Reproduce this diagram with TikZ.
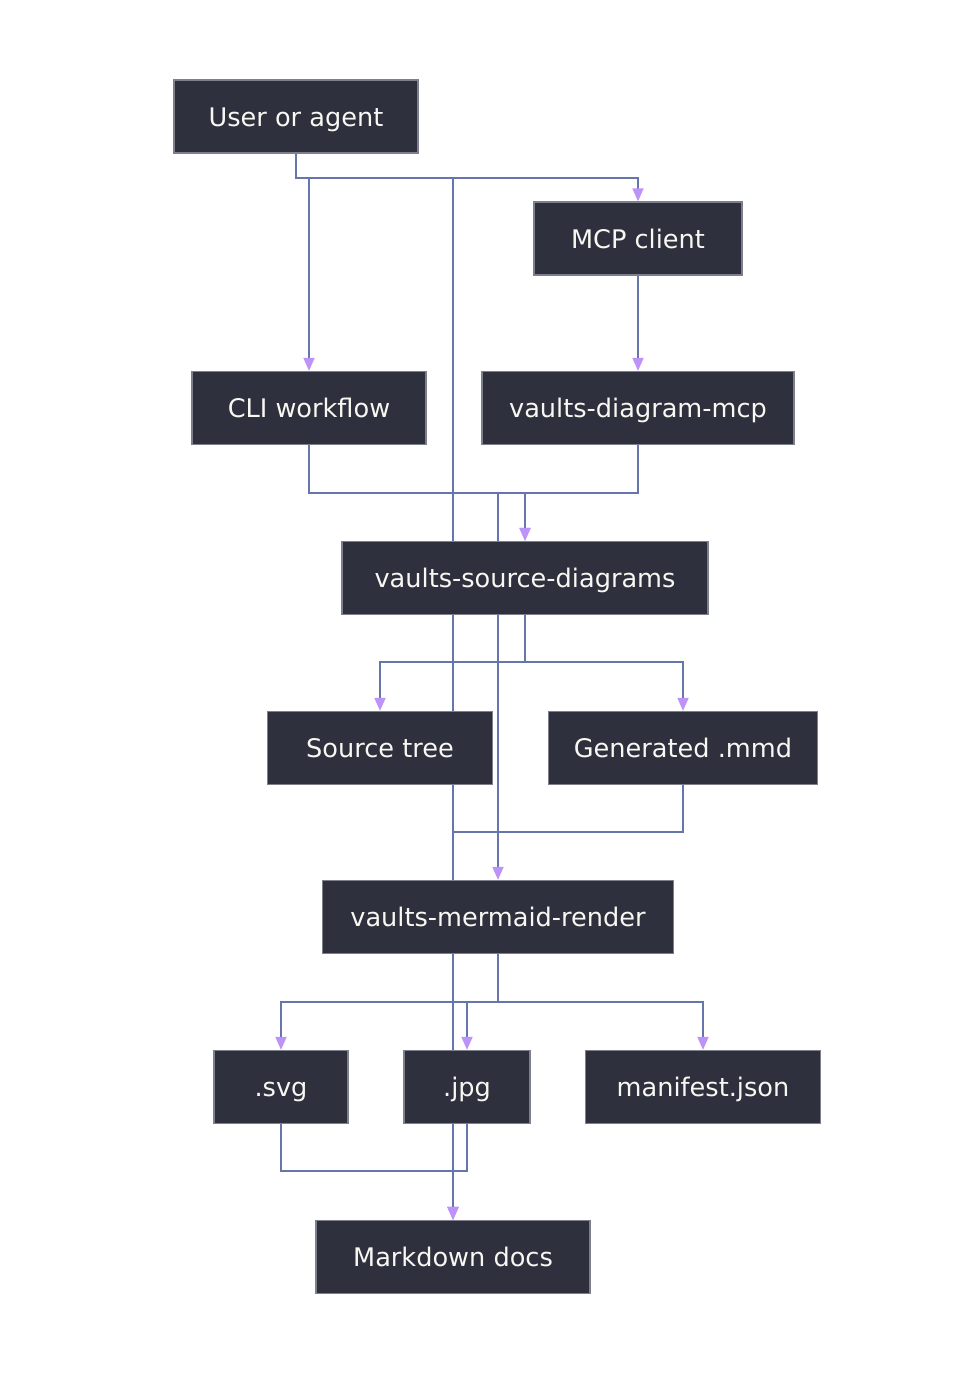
\documentclass[tikz,border=0pt]{standalone}
\usepackage{fontspec}
\setmainfont{DejaVu Sans}
\usetikzlibrary{arrows.meta,backgrounds}
\definecolor{boxfill}{HTML}{2E303D}
\definecolor{boxline}{HTML}{7E7F8C}
\definecolor{edgec}{HTML}{6675AC}
\definecolor{tipc}{HTML}{BD93F9}
\definecolor{txtc}{HTML}{F8F8F2}
\pgfdeclarelayer{canvas}
\pgfsetlayers{canvas,background,main}
\tikzset{
  box/.style={draw=boxline, line width=1.3pt, fill=boxfill, text=txtc, minimum height=73pt, inner sep=0pt, text height=19pt, text depth=0pt, font=\fontsize{25.6}{30}\selectfont},
  edge/.style={draw=edgec, line width=1.8pt},
  arr/.style={edge, -{Triangle[length=13pt,width=11pt,color=tipc]}}
}
\begin{document}
\begin{tikzpicture}[x=1pt,y=-1pt]
\begin{pgfonlayer}{canvas}
\fill[white] (0,0) rectangle (961,1374);
\end{pgfonlayer}
\useasboundingbox (0,0) rectangle (961,1374);
\node[box, minimum width=244pt] (user) at (296,116.5) {User or agent};
\node[box, minimum width=208pt] (mcp) at (638,238.5) {MCP client};
\node[box, minimum width=234pt] (cli) at (309,408) {CLI workflow};
\node[box, minimum width=312pt] (vdm) at (638,408) {vaults-diagram-mcp};
\node[box, minimum width=366pt] (vsd) at (525,578) {vaults-source-diagrams};
\node[box, minimum width=225pt] (src) at (380,748) {Source tree};
\node[box, minimum width=269pt] (gen) at (683,748) {Generated .mmd};
\node[box, minimum width=351pt] (vmr) at (498,917) {vaults-mermaid-render};
\node[box, minimum width=134pt] (svg) at (281,1087) {.svg};
\node[box, minimum width=126pt] (jpg) at (467,1087) {.jpg};
\node[box, minimum width=235pt] (man) at (703,1087) {manifest.json};
\node[box, minimum width=274pt] (md) at (453,1257) {Markdown docs};
\coordinate (h1) at (0,178);
\coordinate (h2) at (0,493);
\coordinate (h3) at (0,662);
\coordinate (h4) at (0,832);
\coordinate (h5) at (0,1002);
\coordinate (h6) at (0,1171);
\begin{pgfonlayer}{background}
\draw[arr] (user.south) -- (user.south |- h1) -| (mcp.north);
\draw[arr] (user.south) -- (user.south |- h1) -| (cli.north);
\draw[arr] (user.south) -- (user.south |- h1) -| (md.north);
\draw[arr] (mcp.south) -- (vdm.north);
\draw[arr] (cli.south) -- (cli.south |- h2) -| (vsd.north);
\draw[arr] (vdm.south) -- (vdm.south |- h2) -| (vsd.north);
\draw[arr] (vdm.south) -- (vdm.south |- h2) -| (vmr.north);
\draw[arr] (vsd.south) -- (vsd.south |- h3) -| (src.north);
\draw[arr] (vsd.south) -- (vsd.south |- h3) -| (gen.north);
\draw[edge] (src.south -| md.north) -- (vmr.north -| md.north);
\draw[edge] (gen.south) -- (gen.south |- h4) -| (vmr.north -| md.north);
\draw[arr] (vmr.south) -- (vmr.south |- h5) -| (svg.north);
\draw[arr] (vmr.south) -- (vmr.south |- h5) -| (jpg.north);
\draw[arr] (vmr.south) -- (vmr.south |- h5) -| (man.north);
\draw[arr] (svg.south) -- (svg.south |- h6) -| (md.north);
\draw[arr] (jpg.south) -- (jpg.south |- h6) -| (md.north);
\end{pgfonlayer}
\end{tikzpicture}
\end{document}
